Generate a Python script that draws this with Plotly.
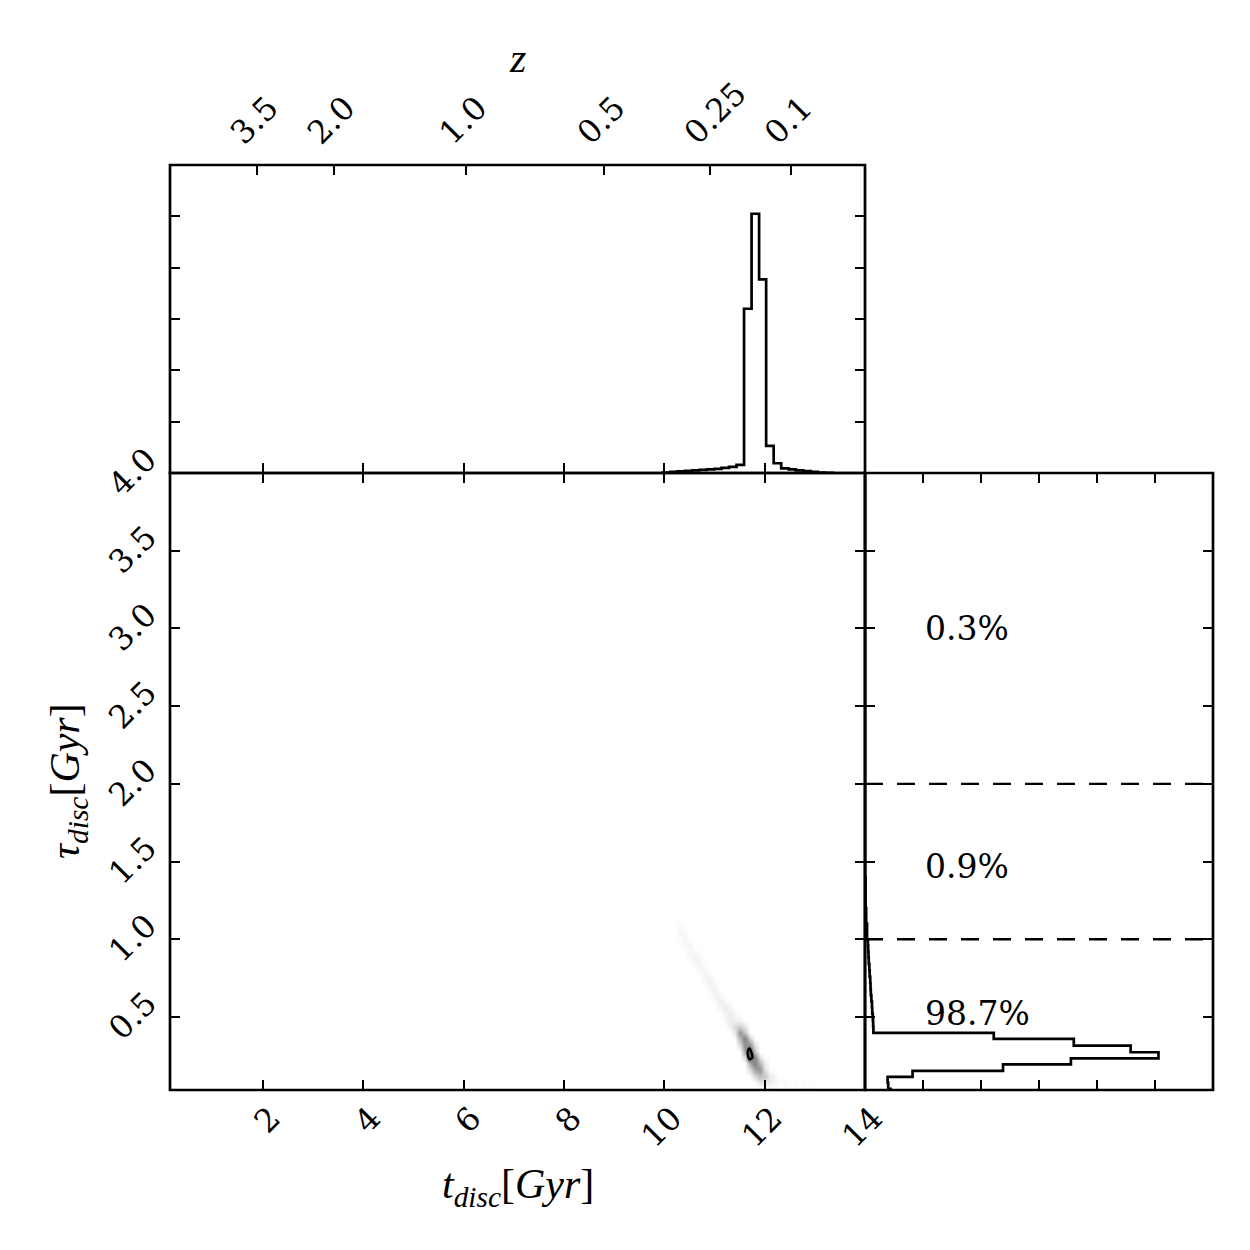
import plotly.graph_objects as go

# ---------------- data ----------------
# top marginal histogram of t_disc (step histogram)
t_edges_top = [9.97, 10.12, 10.26, 10.41, 10.56, 10.70, 10.85, 11.00, 11.14, 11.29,
               11.44, 11.59, 11.74, 11.89, 12.03, 12.18, 12.33, 12.48, 12.62, 12.77,
               12.92, 13.06, 13.21, 13.36]
top_counts = [0.01, 0.02, 0.03, 0.04, 0.05, 0.06, 0.07, 0.08, 0.10, 0.12,
              0.16, 3.20, 5.05, 3.77, 0.53, 0.19, 0.09, 0.07, 0.05, 0.035,
              0.02, 0.01, 0.005]

# right marginal histogram of tau_disc (horizontal step histogram)
tau_edges = [0.0, 0.037, 0.077, 0.114, 0.153, 0.195, 0.234, 0.273, 0.316, 0.359, 0.398,
             0.44, 0.48, 0.52, 0.56, 0.60, 0.64, 0.68, 0.72, 0.76, 0.80, 0.84, 0.88,
             0.92, 0.96, 1.00, 1.10, 1.20, 1.40, 1.70, 2.00, 2.50, 3.00, 4.00]
right_counts = [0.44, 0.40, 0.39, 0.82, 2.38, 3.55, 5.06, 4.58, 3.60, 2.22,
                0.145, 0.14, 0.135, 0.125, 0.12, 0.11, 0.10, 0.095, 0.09, 0.08,
                0.075, 0.065, 0.06, 0.055, 0.05,
                0.035, 0.02, 0.01, 0.0, 0.0, 0.0, 0.0, 0.0]

# fractions in tau ranges
pct_text = ["0.3%", "0.9%", "98.7%"]
pct_tau = [3.0, 1.47, 0.52]
pct_x = 1.0
tau_cuts = [1.0, 2.0]

# top redshift axis
z_labels = ["3.5", "2.0", "1.0", "0.5", "0.25", "0.1"]
z_age = [1.88, 3.41, 6.04, 8.79, 10.92, 12.52]

# main axes ticks
x_ticks = [2, 4, 6, 8, 10, 12, 14]
y_ticks = [0.5, 1.0, 1.5, 2.0, 2.5, 3.0, 3.5, 4.0]
hist_ticks = [1, 2, 3, 4, 5]

# 2D posterior density (nonzero cells of a grid)
heat_t = [round(10.2 + 0.1 * i, 2) for i in range(31)]
heat_tau = [round(0.04 * (i + 1), 2) for i in range(28)]
cell_t = [10.3, 10.3, 10.3, 10.4, 10.4, 10.4, 10.5, 10.5, 10.5, 10.6, 10.6, 10.6,
          10.7, 10.7, 10.7, 10.8, 10.8, 10.8, 10.9, 10.9, 10.9,
          11.0, 11.0, 11.0, 11.0, 11.1, 11.1, 11.1, 11.2, 11.2, 11.2, 11.2,
          11.3, 11.3, 11.3, 11.3, 11.4, 11.4, 11.4, 11.4,
          11.5, 11.5, 11.5, 11.5, 11.5,
          11.6, 11.6, 11.6, 11.6, 11.6, 11.6,
          11.7, 11.7, 11.7, 11.7, 11.7, 11.7,
          11.8, 11.8, 11.8, 11.8, 11.8, 11.8,
          11.9, 11.9, 11.9, 11.9, 11.9,
          12.0, 12.0, 12.0, 12.0, 12.1, 12.1, 12.2, 12.2, 12.4, 12.6,
          12.8, 12.8, 13.0]
cell_tau = [1.00, 1.04, 1.08, 0.96, 1.00, 1.04, 0.88, 0.92, 0.96, 0.84, 0.88, 0.92,
            0.80, 0.84, 0.88, 0.72, 0.76, 0.80, 0.68, 0.72, 0.76,
            0.60, 0.64, 0.68, 0.72, 0.56, 0.60, 0.64, 0.48, 0.52, 0.56, 0.60,
            0.44, 0.48, 0.52, 0.56, 0.40, 0.44, 0.48, 0.52,
            0.32, 0.36, 0.40, 0.44, 0.48,
            0.24, 0.28, 0.32, 0.36, 0.40, 0.44,
            0.16, 0.20, 0.24, 0.28, 0.32, 0.36,
            0.12, 0.16, 0.20, 0.24, 0.28, 0.32,
            0.08, 0.12, 0.16, 0.20, 0.24,
            0.08, 0.12, 0.16, 0.20, 0.08, 0.12, 0.08, 0.12, 0.08, 0.08,
            0.04, 0.08, 0.04]
cell_val = [0.01, 0.03, 0.02, 0.02, 0.04, 0.02, 0.02, 0.03, 0.04, 0.02, 0.05, 0.02,
            0.02, 0.05, 0.02, 0.02, 0.05, 0.03, 0.02, 0.06, 0.03,
            0.02, 0.05, 0.05, 0.02, 0.03, 0.07, 0.03, 0.02, 0.03, 0.09, 0.03,
            0.04, 0.08, 0.08, 0.03, 0.10, 0.16, 0.06, 0.03,
            0.15, 0.35, 0.55, 0.20, 0.05,
            0.15, 0.45, 0.60, 0.70, 0.25, 0.10,
            0.15, 0.40, 1.00, 1.00, 0.55, 0.20,
            0.15, 0.45, 0.70, 0.65, 0.25, 0.10,
            0.10, 0.30, 0.55, 0.35, 0.12,
            0.08, 0.25, 0.12, 0.08, 0.06, 0.09, 0.04, 0.03, 0.03, 0.02,
            0.02, 0.01, 0.01]

# ---------------- build ----------------
grid = [[0.0 for _ in heat_t] for _ in heat_tau]
for t, tau, v in zip(cell_t, cell_tau, cell_val):
    i = min(range(len(heat_tau)), key=lambda k: abs(heat_tau[k] - tau))
    j = min(range(len(heat_t)), key=lambda k: abs(heat_t[k] - t))
    grid[i][j] = v

# step outlines
top_x = [t_edges_top[0]] + t_edges_top
top_y = [0] + top_counts + [0]
right_y = [tau_edges[0]] + tau_edges
right_x = [0] + right_counts + [0]

SERIF = "DejaVu Serif"
MATH = "Liberation Serif"
BLACK = "black"
LW = 2.7
W = 1250
OFF = 8  # page offset of the plot div

fig = go.Figure()

fig.add_trace(go.Heatmap(
    x=heat_t, y=heat_tau, z=grid, zmin=0, zmax=1, zsmooth="best",
    colorscale=[[0, "rgb(255,255,255)"], [0.04, "rgb(244,244,244)"],
                [0.2, "rgb(210,210,210)"], [0.5, "rgb(155,155,155)"],
                [1, "rgb(95,95,95)"]],
    showscale=False, hoverinfo="skip", xaxis="x", yaxis="y"))
fig.add_trace(go.Contour(
    x=heat_t, y=heat_tau, z=grid,
    contours=dict(start=0.8, end=0.8, size=0.1, coloring="none"),
    line=dict(color=BLACK, width=2.4), showscale=False, hoverinfo="skip",
    xaxis="x", yaxis="y"))

fig.add_trace(go.Scatter(x=top_x, y=top_y, mode="lines", line_shape="hv",
                         line=dict(color=BLACK, width=LW), xaxis="x2", yaxis="y2",
                         hoverinfo="skip", showlegend=False))
fig.add_trace(go.Scatter(x=right_x, y=right_y, mode="lines", line_shape="vh",
                         line=dict(color=BLACK, width=LW), xaxis="x3", yaxis="y3",
                         hoverinfo="skip", showlegend=False))
# invisible trace carrying the redshift axis
fig.add_trace(go.Scatter(x=[z_age[0]], y=[0], mode="markers", marker=dict(opacity=0),
                         xaxis="x4", yaxis="y2", hoverinfo="skip", showlegend=False))

for tc in tau_cuts:
    fig.add_shape(type="line", xref="x3 domain", yref="y3", x0=0, x1=1, y0=tc, y1=tc,
                  line=dict(color=BLACK, width=2.4, dash="18px,14px"))

# panel frames (centred on the panel borders so shared borders are single lines)
for xr, yr in [("x", "y"), ("x2", "y2"), ("x3", "y3")]:
    fig.add_shape(type="rect", xref=xr + " domain", yref=yr + " domain",
                  x0=0, x1=1, y0=0, y1=1, line=dict(color=BLACK, width=LW),
                  fillcolor="rgba(0,0,0,0)", layer="above")

for txt, ty in zip(pct_text, pct_tau):
    fig.add_annotation(x=pct_x, y=ty, xref="x3", yref="y3", text=txt, showarrow=False,
                       xanchor="left", yanchor="middle",
                       font=dict(family=SERIF, size=33, color=BLACK))


def px_x(p):
    return (p - OFF) / W


def px_y(p):
    return 1 - (p - OFF) / W


X0, X1, X2 = px_x(170), px_x(865), px_x(1213)
Y0, Y1, Y2 = px_y(1090), px_y(473), px_y(165)

common = dict(showgrid=False, zeroline=False, showline=False, automargin=False,
              ticks="inside", ticklen=10, tickwidth=1.6, tickcolor=BLACK,
              tickfont=dict(family=SERIF, size=32, color=BLACK))

fig.update_layout(
    template="none",
    width=W, height=W, margin=dict(l=0, r=0, t=0, b=0, autoexpand=False),
    paper_bgcolor="white", plot_bgcolor="rgba(0,0,0,0)", showlegend=False,
    xaxis=dict(common, domain=[X0, X1], range=[0.15, 14.0001], anchor="y",
               tickvals=x_ticks, tickangle=-45, mirror="ticks",
               ticklabelshift=8, ticklabelstandoff=2),
    yaxis=dict(common, domain=[Y0, Y1], range=[0.03, 4.0001], anchor="x",
               tickvals=y_ticks, tickformat=".1f", tickangle=-45, mirror="ticks",
               ticklabelshift=-18, ticklabelstandoff=22),
    xaxis2=dict(common, domain=[X0, X1], matches="x", anchor="y2",
                tickvals=x_ticks, showticklabels=False),
    yaxis2=dict(common, domain=[Y1, Y2], range=[0, 6], anchor="x2",
                tickvals=hist_ticks, showticklabels=False, mirror="ticks"),
    xaxis3=dict(common, domain=[X1, X2], range=[0, 6], anchor="y3",
                tickvals=hist_ticks, showticklabels=False, mirror="ticks"),
    yaxis3=dict(common, domain=[Y0, Y1], matches="y", anchor="x3",
                tickvals=y_ticks, showticklabels=False, mirror="ticks"),
    xaxis4=dict(common, overlaying="x2", anchor="y2", side="top",
                range=[0.15, 14.0001], tickvals=z_age, ticktext=z_labels,
                tickangle=-45, ticklabelshift=-24, ticklabelstandoff=7),
)

fig.add_annotation(x=0.5, y=px_y(1187), xref="x domain", yref="paper",
                   text="<i>t</i><sub><i>disc</i></sub>[<i>Gyr</i>]", showarrow=False,
                   xanchor="center", yanchor="middle",
                   font=dict(family=MATH, size=42, color=BLACK))
fig.add_annotation(x=px_x(68), y=px_y(781), xref="paper", yref="paper",
                   text="<i>τ</i><sub><i>disc</i></sub>[<i>Gyr</i>]", showarrow=False,
                   textangle=-90, xanchor="center", yanchor="middle",
                   font=dict(family=MATH, size=42, color=BLACK))
fig.add_annotation(x=0.5, y=px_y(58), xref="x domain", yref="paper",
                   text="<i>z</i>", showarrow=False, xanchor="center", yanchor="middle",
                   font=dict(family=MATH, size=42, color=BLACK))

fig.write_html("out.html")
